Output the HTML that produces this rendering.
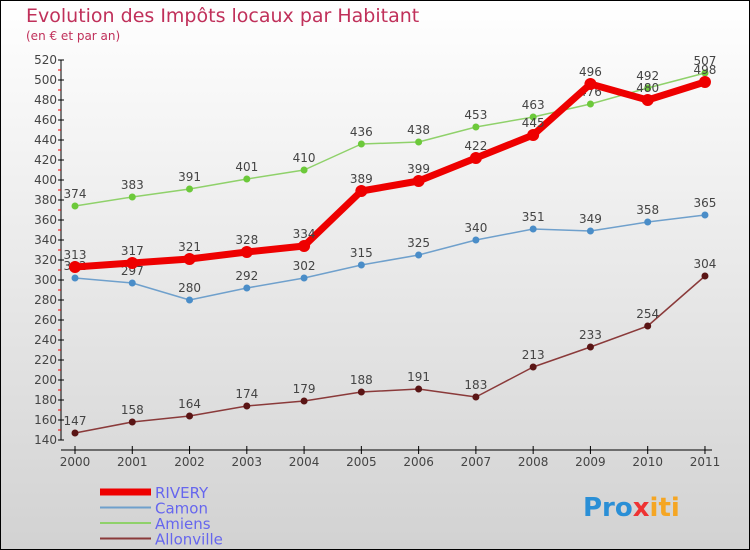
<!DOCTYPE html>
<html><head><meta charset="utf-8"><style>
body{margin:0;width:750px;height:550px;overflow:hidden}
svg{display:block;font-family:"DejaVu Sans","Liberation Sans",sans-serif}
</style></head><body>
<svg id="chart" width="750" height="550">
<defs><linearGradient id="bg" x1="0" y1="0" x2="0" y2="1"><stop offset="0" stop-color="#ffffff"/><stop offset="1" stop-color="#d2d2d2"/></linearGradient></defs>
<rect x="0.5" y="0.5" width="749" height="549" fill="url(#bg)" stroke="#000"/>
<text x="26" y="22" font-size="19" fill="#c0305a">Evolution des Impôts locaux par Habitant</text>
<text x="26" y="40" font-size="12" fill="#c0305a">(en € et par an)</text>
<g id="axes"></g><g id="series"></g><g id="legend"></g>
<text x="583" y="516" font-size="26" font-weight="bold"><tspan fill="#2a8fd6">Pro</tspan><tspan fill="#e33">x</tspan><tspan fill="#f5a623">iti</tspan></text>
</svg>
<script>
const years=["2000","2001","2002","2003","2004","2005","2006","2007","2008","2009","2010","2011"];
const yTicks=[140,160,180,200,220,240,260,280,300,320,340,360,380,400,420,440,460,480,500,520];
const rivery=[313,317,321,328,334,389,399,422,445,496,480,498];
const camon=[302,297,280,292,302,315,325,340,351,349,358,365];
const amiens=[374,383,391,401,410,436,438,453,463,476,492,507];
const allonville=[147,158,164,174,179,188,191,183,213,233,254,304];
const NS="http://www.w3.org/2000/svg";
const X=i=>75+i*57.27, Y=v=>440-(v-140);
function mk(t,a,p){const e=document.createElementNS(NS,t);for(const k in a)e.setAttribute(k,a[k]);p.appendChild(e);return e;}
const ax=document.getElementById('axes');
let yl=mk('line',{x1:61,y1:60,x2:61,y2:440,stroke:'#000'},ax);

yTicks.forEach((v,i)=>{
 mk('line',{x1:58,y1:Y(v),x2:64,y2:Y(v),stroke:'#000'},ax);
 if(i<yTicks.length-1)mk('line',{x1:58,y1:Y(v)-10,x2:61,y2:Y(v)-10,stroke:'#e00'},ax);
 const t=mk('text',{x:57,y:Y(v)+4,'font-size':12,'text-anchor':'end',fill:'#444'},ax);t.textContent=v;
 
});
let xl=mk('line',{x1:61,y1:450,x2:712,y2:450,stroke:'#000'},ax);

years.forEach((y,i)=>{
 mk('line',{x1:X(i),y1:446,x2:X(i),y2:454,stroke:'#000'},ax);
 const t=mk('text',{x:X(i),y:466,'font-size':12,'text-anchor':'middle',fill:'#444'},ax);t.textContent=y;
 
});
const sg=document.getElementById('series');
const series=[
 {n:'amiens',d:amiens,c:'#8fd16a',dc:'#6cc93a',w:1.5,r:3.5},
 {n:'camon',d:camon,c:'#6fa0cc',dc:'#4a8dc8',w:1.5,r:3.5},
 {n:'allonville',d:allonville,c:'#8a3a3a',dc:'#5a1515',w:1.5,r:3.5},
 {n:'rivery',d:rivery,c:'#ee0000',dc:'#ee0000',w:7,r:6}];
series.forEach(s=>{
 const p=mk('polyline',{points:s.d.map((v,i)=>X(i)+','+Y(v)).join(' '),fill:'none',stroke:s.c,'stroke-width':s.w,'stroke-linejoin':'round'},sg);
 
 s.d.forEach((v,i)=>{
  const c=mk('circle',{cx:X(i),cy:Y(v),r:s.r,fill:s.dc},sg);
  
  const t=mk('text',{x:X(i),y:Y(v)-8,'font-size':12,'text-anchor':'middle',fill:'#444'},sg);t.textContent=v;
  
 });
});
const lg=document.getElementById('legend');
[['RIVERY','#ee0000',7],['Camon','#6fa0cc',2],['Amiens','#8fd16a',2],['Allonville','#8a3a3a',2]].forEach((e,i)=>{
 const y=492+i*15.5;
 mk('line',{x1:100,y1:y,x2:151,y2:y,stroke:e[1],'stroke-width':e[2]},lg);
 const t=mk('text',{x:155,y:y+6,'font-size':15,fill:'#6666ee'},lg);t.textContent=e[0];
 
});
</script>
</body></html>
